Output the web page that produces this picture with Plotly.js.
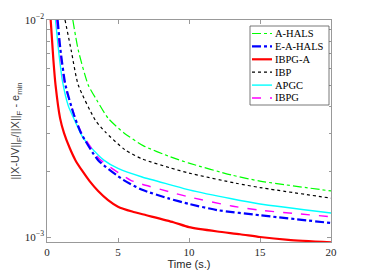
<!DOCTYPE html>
<html>
<head>
<meta charset="utf-8">
<script src="https://cdn.plot.ly/plotly-3.0.1.min.js"></script>
<style>html,body{margin:0;padding:0;background:#fff;}#chart{width:366px;height:274px;}</style>
</head>
<body>
<div id="chart"></div>
<script>
// ---- data ----
const seriesNames = ["A-HALS", "E-A-HALS", "IBPG-A", "IBP", "APGC", "IBPG"];

const tAHALS = [1.82, 2.2, 2.9, 3.5, 4.3, 5.44, 6.8, 8.7, 10, 13, 15, 20];
const yAHALS = [0.0100, 0.00727, 0.00502, 0.00428, 0.00353, 0.00301, 0.00263, 0.00234, 0.00219, 0.00193, 0.00181, 0.00163];

const tEAHALS = [0.75, 0.95, 1.3, 1.9, 2.4, 3.6, 5.4, 6.7, 8.5, 10, 12, 15, 20];
const yEAHALS = [0.0100, 0.00727, 0.00502, 0.00365, 0.00301, 0.00226, 0.00183, 0.00165, 0.00151, 0.00142, 0.00133, 0.00126, 0.00116];

const tIBPGA = [0.26, 0.45, 0.6, 0.92, 1.2, 1.6, 2.0, 2.5, 3.0, 3.6, 4.3, 5, 6, 7, 8.9, 10, 12, 13.6, 15, 17, 20];
const yIBPGA = [0.0100, 0.00654, 0.00502, 0.00353, 0.00301, 0.00257, 0.00226, 0.00201, 0.00181, 0.00163, 0.00148, 0.00138, 0.00131, 0.00126, 0.00117, 0.00111, 0.00106, 0.00103, 0.00100, 0.000971, 0.000945];

const tIBP = [1.27, 1.7, 2.2, 3.4, 4.1, 5.5, 6.7, 8.7, 10, 13.3, 15, 20];
const yIBP = [0.0100, 0.00727, 0.00502, 0.00346, 0.00305, 0.00252, 0.00229, 0.00208, 0.00197, 0.00177, 0.00169, 0.00151];

const tAPGC = [0.6, 0.85, 1.1, 1.5, 2.0, 2.5, 3.0, 4, 5, 6.7, 8.7, 10, 13, 15, 20];
const yAPGC = [0.0100, 0.00690, 0.00518, 0.00402, 0.00339, 0.00289, 0.00263, 0.00226, 0.00207, 0.00189, 0.00174, 0.00165, 0.00150, 0.00142, 0.00129];

const tIBPG = [0.68, 0.9, 1.25, 1.9, 2.4, 3.7, 5.87, 6.7, 8.7, 10, 13, 15, 20];
const yIBPG = [0.0100, 0.00727, 0.00502, 0.00369, 0.00305, 0.00229, 0.00183, 0.00175, 0.00161, 0.00153, 0.00139, 0.00133, 0.00124];

const xTickVals = [0, 5, 10, 15, 20];
const yTickVals = [0.001, 0.01];
const yTickText = ["10<sup>\u22123</sup>", "10<sup>\u22122</sup>"];
const yMinorTicks = [0.002, 0.003, 0.004, 0.005, 0.006, 0.007, 0.008, 0.009];

// ---- styles ----
const styles = [
  {color: "#00ff00", width: 1.2, dash: "dashdot"},
  {color: "#0000ff", width: 2.2, dash: "dashdot"},
  {color: "#ff0000", width: 2.2, dash: "solid"},
  {color: "#000000", width: 1.2, dash: "dot"},
  {color: "#00ffff", width: 1.4, dash: "solid"},
  {color: "#ff00ff", width: 1.4, dash: "dash"}
];
const xs = [tAHALS, tEAHALS, tIBPGA, tIBP, tAPGC, tIBPG];
const ys = [yAHALS, yEAHALS, yIBPGA, yIBP, yAPGC, yIBPG];
const order = [3, 0, 4, 5, 1, 2];
const traces = order.map(i => ({
  x: xs[i], y: ys[i], name: seriesNames[i], type: "scatter", mode: "lines",
  line: {color: styles[i].color, width: styles[i].width, dash: styles[i].dash, shape: "spline", smoothing: 0.6},
  showlegend: false, hoverinfo: "skip"
}));

// plot area in pixels
const L = 47, R = 331, T = 20, B = 242;
const px = x => (x - L) / (R - L);
const py = y => (B - y) / (B - T);

// compact legend like the reference
const shapes = [{type: "rect", xref: "paper", yref: "paper", x0: px(250), x1: px(329), y0: py(26), y1: py(105),
  line: {color: "#555", width: 0.8}, fillcolor: "#fff", layer: "above"}];
const annotations = [];
seriesNames.forEach((n, i) => {
  const yc = 33.5 + 12.9 * i;
  shapes.push({type: "line", xref: "paper", yref: "paper", x0: px(252), x1: px(272), y0: py(yc), y1: py(yc),
    line: {color: styles[i].color, width: styles[i].width, dash: styles[i].dash}, layer: "above"});
  annotations.push({xref: "paper", yref: "paper", x: px(272.5), y: py(yc), xanchor: "left", yanchor: "middle",
    text: n, showarrow: false, font: {family: "Liberation Serif, serif", size: 10.5, color: "#000"}});
});

const axisCommon = {
  showline: true, linecolor: "#808080", linewidth: 0.8, mirror: "allticks",
  ticks: "inside", tickcolor: "#808080", tickwidth: 0.8, showgrid: false, zeroline: false,
  tickfont: {family: "Liberation Serif, serif", size: 11, color: "#262626"}
};

const layout = {
  width: 366, height: 274,
  margin: {l: L, r: 366 - R, t: T, b: 274 - B},
  paper_bgcolor: "#fff", plot_bgcolor: "#fff",
  xaxis: Object.assign({}, axisCommon, {
    range: [0, 20], tickmode: "array", tickvals: xTickVals, ticklen: 4,
    title: {text: "Time (s.)", font: {family: "Liberation Sans, Arial, sans-serif", size: 11, color: "#262626"}, standoff: 2}
  }),
  yaxis: Object.assign({}, axisCommon, {
    type: "log", range: [-3.023, -2], tickmode: "array", tickvals: yTickVals, ticktext: yTickText, ticklen: 4,
    minor: {tickmode: "array", tickvals: yMinorTicks, ticks: "inside", ticklen: 2.5, tickcolor: "#808080", tickwidth: 0.8},
    title: {text: "||X-UV||<sub>F</sub>/||X||<sub>F</sub> - e<sub>min</sub>", font: {family: "Liberation Sans, Arial, sans-serif", size: 11, color: "#404040"}, standoff: 2}
  }),
  shapes: shapes,
  annotations: annotations,
  showlegend: false
};

Plotly.newPlot("chart", traces, layout, {displayModeBar: false, staticPlot: true});
</script>
</body>
</html>
